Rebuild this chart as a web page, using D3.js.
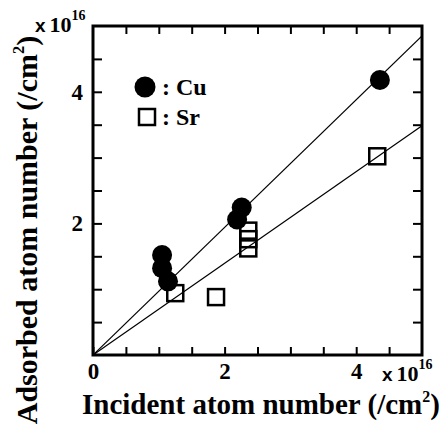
<!DOCTYPE html>
<html><head><meta charset="utf-8">
<script src="https://cdn.jsdelivr.net/npm/d3@7"></script>
</head><body style="margin:0">
<svg id="c" width="448" height="436"></svg>
<script>
// Data (units of 1e16 /cm^2)
const cuIncident = [1.05, 1.05, 1.14, 2.26, 2.19, 4.36];
const cuAdsorbed = [1.52, 1.32, 1.12, 2.24, 2.06, 4.18];
const srIncident = [1.25, 1.87, 2.36, 2.36, 2.36, 4.32];
const srAdsorbed = [0.94, 0.88, 1.89, 1.76, 1.62, 3.02];
const cuSlope = 0.97;
const srSlope = 0.697;
const xTicks = [0, 0.5, 1, 1.5, 2, 2.5, 3, 3.5, 4, 4.5];
const yTicks = [0.5, 1, 1.5, 2, 2.5, 3, 3.5, 4, 4.5];
const labeled = [0, 2, 4];

const svg = d3.select("#c");
const L = 93, R = 422, T = 26, B = 355;
const x = d3.scaleLinear().domain([0, 5]).range([L, R]);
const y = d3.scaleLinear().domain([0, 5]).range([B, T]);
const txt = (sel, size, fam) => sel.style("font-family", `"${fam || "Liberation Serif"}"`)
  .style("font-weight", "bold").style("font-size", size + "px").attr("fill", "#000");

// fit lines
svg.append("clipPath").attr("id", "pc").append("rect")
  .attr("x", L).attr("y", T).attr("width", R - L).attr("height", B - T);
const line = d3.line().x(d => x(d[0])).y(d => y(d[1]));
[cuSlope, srSlope].forEach(s => {
  svg.append("path").attr("clip-path", "url(#pc)")
    .attr("d", line([[0, 0], [5, 5 * s]]))
    .attr("fill", "none").attr("stroke", "#000").attr("stroke-width", 1.2);
});

// axes with inward ticks
const fmt = d => labeled.includes(d) ? String(d) : "";
const gB = svg.append("g").attr("transform", `translate(0,${B})`)
  .call(d3.axisBottom(x).tickValues(xTicks).tickSize(-8).tickPadding(8).tickFormat(fmt));
const gT = svg.append("g").attr("transform", `translate(0,${T})`)
  .call(d3.axisTop(x).tickValues(xTicks.slice(1)).tickSize(-8).tickFormat(""));
const gL = svg.append("g").attr("transform", `translate(${L},0)`)
  .call(d3.axisLeft(y).tickValues(yTicks).tickSize(-9).tickPadding(10).tickFormat(fmt));
const gR = svg.append("g").attr("transform", `translate(${R},0)`)
  .call(d3.axisRight(y).tickValues(yTicks).tickSize(-9).tickFormat(""));
[gB, gT, gL, gR].forEach(g => {
  g.attr("font-family", null).attr("font-size", null);
  g.select(".domain").remove();
  g.selectAll(".tick line").attr("stroke", "#000").attr("stroke-width", 2);
  txt(g.selectAll(".tick text"), 23);
});

// frame
svg.append("rect").attr("x", L).attr("y", T).attr("width", R - L).attr("height", B - T)
  .attr("fill", "none").attr("stroke", "#000").attr("stroke-width", 3);

// Sr squares
const sq = 16;
svg.append("g").selectAll("rect").data(srIncident).join("rect")
  .attr("x", d => x(d) - sq / 2).attr("y", (d, i) => y(srAdsorbed[i]) - sq / 2)
  .attr("width", sq).attr("height", sq)
  .attr("fill", "none").attr("stroke", "#000").attr("stroke-width", 2.5);
// Cu circles
svg.append("g").selectAll("circle").data(cuIncident).join("circle")
  .attr("cx", d => x(d)).attr("cy", (d, i) => y(cuAdsorbed[i])).attr("r", 10)
  .attr("fill", "#000");

// legend
svg.append("circle").attr("cx", 145).attr("cy", 87).attr("r", 10.5).attr("fill", "#000");
svg.append("rect").attr("x", 139).attr("y", 109).attr("width", sq).attr("height", sq)
  .attr("fill", "none").attr("stroke", "#000").attr("stroke-width", 2.5);
txt(svg.append("text").attr("x", 162).attr("y", 95), 24).text(": Cu");
txt(svg.append("text").attr("x", 162).attr("y", 125), 24).text(": Sr");

// multipliers
function mult(xp, yp) {
  const t = txt(svg.append("text").attr("x", xp).attr("y", yp), 22);
  txt(t.append("tspan"), 19, "Liberation Sans").text("x");
  txt(t.append("tspan").attr("dx", 4), 22).text("10");
  txt(t.append("tspan").attr("dy", -12), 14).text("16");
}
mult(35, 32);
mult(382, 381);

// axis titles (superscript 2 as tspan)
function title(sel, size) {
  txt(sel.append("tspan"), size).text("(/cm");
  txt(sel.append("tspan").attr("dy", -size * 0.42), size * 0.55).text("2");
  txt(sel.append("tspan").attr("dy", size * 0.42), size).text(")");
  return sel;
}
const xt = txt(svg.append("text").attr("x", 82).attr("y", 414), 29);
txt(xt.append("tspan"), 29).text("Incident atom number ");
title(xt, 29);
const yt = txt(svg.append("text").attr("transform", "translate(37,230) rotate(-90)")
  .attr("text-anchor", "middle"), 30);
txt(yt.append("tspan"), 30).text("Adsorbed atom number ");
title(yt, 30);
</script>
</body></html>
